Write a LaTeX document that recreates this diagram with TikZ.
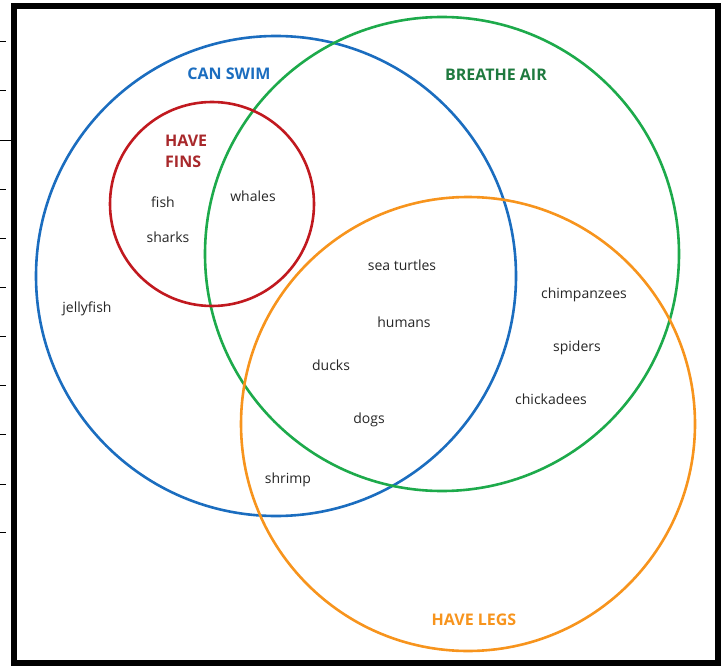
\documentclass[tikz,border=0pt]{standalone}
\usepackage{fontspec}
\setmainfont{Open Sans}

\definecolor{swimblue}{HTML}{1B6DBF}
\definecolor{airgreen}{HTML}{1DAA4B}
\definecolor{airtext}{HTML}{1F7A3F}
\definecolor{finred}{HTML}{C1191F}
\definecolor{fintext}{HTML}{A8282B}
\definecolor{legorange}{HTML}{F7941D}
\definecolor{animal}{HTML}{262626}

\begin{document}
\begin{tikzpicture}[x=1pt, y=-1pt]
    \tikzstyle{set}=[line width=2.6pt]
    \tikzstyle{title}=[font=\fontsize{16}{17}\selectfont\bfseries, inner sep=0pt]
    \tikzstyle{animal}=[font=\fontsize{14}{15}\selectfont, text=animal, inner sep=0pt]

    \useasboundingbox (0,0) rectangle (725,666);

    % frame and the ticks on its left
    \draw[line width=6pt] (14,6) rectangle (718,663);
    \foreach \y in {42,91,189,238,287,336,385,434,484,532}
        \draw[line width=1pt] (0,\y) -- (6,\y);
    \draw[line width=1pt] (0,140) -- (12,140);

    % the four sets
    \draw[set, swimblue] (276,276) circle (240);
    \draw[set, airgreen] (442,254) circle (237);
    \draw[set, finred] (212,204) circle (102);
    \draw[set, legorange] (468,424) circle (227);

    \node[title, text=swimblue] (swim) at (229,74) {CAN SWIM};
    \node[title, text=airtext] (air) at (496,75) {BREATHE AIR};
    \node[title, text=fintext, align=left, anchor=north west] (fins) at (165,135) {HAVE\\[4pt]FINS};
    \node[title, text=legorange] (legs) at (474,620) {HAVE LEGS};

    % animals
    \node[animal] (fish) at (163,202) {fish};
    \node[animal] (sharks) at (168,237) {sharks};
    \node[animal] (whales) at (253,196) {whales};
    \node[animal] (jellyfish) at (87,309) {jellyfish};
    \node[animal] (turtles) at (402,265) {sea turtles};
    \node[animal] (humans) at (404,322) {humans};
    \node[animal] (ducks) at (331,365) {ducks};
    \node[animal] (dogs) at (369,420) {dogs};
    \node[animal] (shrimp) at (288,480) {shrimp};
    \node[animal] (chimps) at (584,295) {chimpanzees};
    \node[animal] (spiders) at (577,348) {spiders};
    \node[animal] (chickadees) at (551,399) {chickadees};
\end{tikzpicture}
\end{document}
